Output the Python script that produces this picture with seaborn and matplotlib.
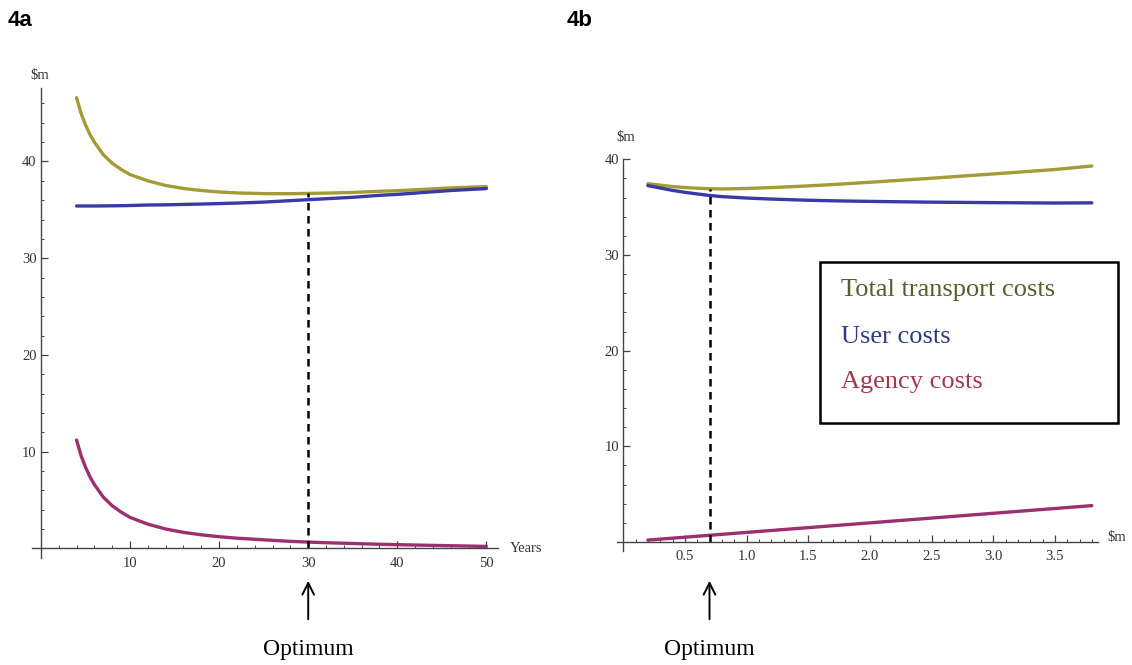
import matplotlib
matplotlib.use("Agg")
import matplotlib.pyplot as plt
import matplotlib.transforms as mtransforms
from matplotlib.patches import Rectangle
from matplotlib.ticker import MultipleLocator, FormatStrFormatter
import seaborn as sns
import pandas as pd

# ---------------- data ----------------
years = [4, 4.5, 5, 5.5, 6, 7, 8, 9, 10, 12, 14, 16, 18, 20, 22, 25, 28, 30, 32, 35, 38, 40, 43, 46, 50]
agency_a = [11.2, 9.6, 8.4, 7.4, 6.6, 5.3, 4.4, 3.75, 3.2, 2.5, 2.0, 1.65, 1.4, 1.2, 1.05, 0.88, 0.72, 0.65,
            0.58, 0.5, 0.42, 0.38, 0.32, 0.27, 0.2]
user_a = [35.4, 35.4, 35.4, 35.4, 35.4, 35.41, 35.42, 35.43, 35.45, 35.5, 35.52, 35.56, 35.6, 35.65, 35.7,
          35.8, 35.95, 36.05, 36.15, 36.3, 36.5, 36.6, 36.8, 37.0, 37.2]
total_a = [46.6, 45.0, 43.8, 42.8, 42.0, 40.71, 39.82, 39.18, 38.65, 38.0, 37.52, 37.21, 37.0, 36.85, 36.75,
           36.68, 36.67, 36.7, 36.73, 36.8, 36.92, 36.98, 37.12, 37.27, 37.4]

spend = [0.2, 0.3, 0.4, 0.5, 0.6, 0.7, 0.8, 1.0, 1.25, 1.5, 1.75, 2.0, 2.5, 3.0, 3.5, 3.8]
agency_b = [0.2, 0.3, 0.4, 0.5, 0.6, 0.7, 0.8, 1.0, 1.25, 1.5, 1.75, 2.0, 2.5, 3.0, 3.5, 3.8]
user_b = [37.25, 37.0, 36.75, 36.55, 36.38, 36.22, 36.1, 35.95, 35.82, 35.72, 35.65, 35.6, 35.52, 35.47,
          35.43, 35.45]
total_b = [37.45, 37.3, 37.15, 37.05, 36.98, 36.92, 36.9, 36.95, 37.07, 37.22, 37.4, 37.6, 38.02, 38.47,
           38.93, 39.3]

optimum_a = 30
optimum_total_a = 36.7
optimum_b = 0.7
optimum_total_b = 36.92

series_names = ["Total transport costs", "User costs", "Agency costs"]
line_colors = ["#a39b36", "#3a3aa6", "#9c2f6e"]
text_colors = ["#5b5b2e", "#2e3c7e", "#a33848"]

xticks_a = [10, 20, 30, 40, 50]
yticks_a = [10, 20, 30, 40]
xticks_b = [0.5, 1.0, 1.5, 2.0, 2.5, 3.0, 3.5]
yticks_b = [10, 20, 30, 40]

# ---------------- style ----------------
sns.set_theme(style="white")
plt.rcParams["font.family"] = ["Liberation Serif", "DejaVu Serif"]

fig = plt.figure(figsize=(11.32, 6.65), dpi=100)

W, H = 1132.0, 665.0
ax_a = fig.add_axes([32 / W, 1 - 558 / H, (498 - 32) / W, (558 - 88) / H])
ax_b = fig.add_axes([617 / W, 1 - 550.6 / H, (1098 - 617) / W, (550.6 - 159.3) / H])

df_a = pd.DataFrame({
    "x": years * 3,
    "y": total_a + user_a + agency_a,
    "series": [series_names[0]] * len(years) + [series_names[1]] * len(years) + [series_names[2]] * len(years),
})
df_b = pd.DataFrame({
    "x": spend * 3,
    "y": total_b + user_b + agency_b,
    "series": [series_names[0]] * len(spend) + [series_names[1]] * len(spend) + [series_names[2]] * len(spend),
})
pal = dict(zip(series_names, line_colors))

for ax, df in [(ax_a, df_a), (ax_b, df_b)]:
    sns.lineplot(data=df, x="x", y="y", hue="series", palette=pal, ax=ax, lw=2.4, legend=False,
                 sort=True, estimator=None)


def style_axis(ax, xlim, ylim, xticks, yticks, xminor, yminor, xfmt):
    ax.set_xlim(*xlim)
    ax.set_ylim(*ylim)
    ax.set_xlabel("")
    ax.set_ylabel("")
    for s in ["top", "right"]:
        ax.spines[s].set_visible(False)
    ax.spines["left"].set_position(("data", 0))
    ax.spines["bottom"].set_position(("data", 0))
    for s in ["left", "bottom"]:
        ax.spines[s].set_color("#444444")
        ax.spines[s].set_linewidth(1.0)
    ax.set_xticks(xticks)
    ax.set_yticks(yticks)
    ax.xaxis.set_major_formatter(FormatStrFormatter(xfmt))
    ax.xaxis.set_minor_locator(MultipleLocator(xminor))
    ax.yaxis.set_minor_locator(MultipleLocator(yminor))
    ax.tick_params(which="major", direction="in", length=5, width=0.9, color="#444444",
                   labelsize=10.5, labelcolor="#333333")
    ax.tick_params(axis="x", which="major", pad=6)
    ax.tick_params(axis="y", which="major", pad=3)
    ax.tick_params(which="minor", direction="in", length=2.5, width=0.7, color="#444444")
    ax.tick_params(axis="x", which="both", bottom=True)
    ax.tick_params(axis="y", which="both", left=True)
    ax.grid(False)
    ax.patch.set_alpha(0)


style_axis(ax_a, (-1, 51.3), (-1, 47.6), xticks_a, yticks_a, 2, 2, "%d")
style_axis(ax_b, (-0.05, 3.85), (-0.9, 40.0), xticks_b, yticks_b, 0.1, 2, "%.1f")

# dashed optimum lines
ax_a.plot([optimum_a, optimum_a], [0, optimum_total_a], ls=(0, (3, 2.2)), color="black", lw=1.8)
ax_b.plot([optimum_b, optimum_b], [0, optimum_total_b], ls=(0, (3, 2.2)), color="black", lw=1.8)

# axis labels in Mathematica style
ax_a.text(52.6, 0, "Years", ha="left", va="center", fontsize=10.5, color="#333333", clip_on=False)
ax_a.text(-0.1, 48.9, r"\$m", ha="center", va="center", fontsize=10.5, color="#333333", clip_on=False)
ax_b.text(3.93, 0.5, r"\$m", ha="left", va="center", fontsize=10.5, color="#333333", clip_on=False)
ax_b.text(0.02, 42.3, r"\$m", ha="center", va="center", fontsize=10.5, color="#333333", clip_on=False)

# optimum arrows and labels
for ax, xo in [(ax_a, optimum_a), (ax_b, optimum_b)]:
    tr = mtransforms.blended_transform_factory(ax.transData, fig.transFigure)
    ax.annotate("", xy=(xo, 1 - 578 / H), xytext=(xo, 1 - 622 / H), xycoords=tr, textcoords=tr,
                arrowprops=dict(arrowstyle="->,head_length=0.7,head_width=0.35", color="black", lw=1.4),
                annotation_clip=False)
    ax.text(xo, 1 - 650 / H, "Optimum", transform=tr, ha="center", va="center", fontsize=17,
            color="black", clip_on=False)

# legend box
fig.add_artist(Rectangle((820 / W, 1 - 423 / H), 298 / W, 161 / H, transform=fig.transFigure,
                         facecolor="white", edgecolor="black", lw=1.8))
for name, col, ypx in zip(series_names, text_colors, [290, 337, 382]):
    fig.text(841 / W, 1 - ypx / H, name, color=col, fontsize=19, ha="left", va="center")

# panel labels
fig.text(8 / W, 1 - 21 / H, "4a", fontsize=16, fontweight="bold", family=["Liberation Sans", "DejaVu Sans"],
         ha="left", va="center", color="black")
fig.text(567 / W, 1 - 21 / H, "4b", fontsize=16, fontweight="bold", family=["Liberation Sans", "DejaVu Sans"],
         ha="left", va="center", color="black")

fig.savefig("out.png", dpi=100, facecolor="white")
